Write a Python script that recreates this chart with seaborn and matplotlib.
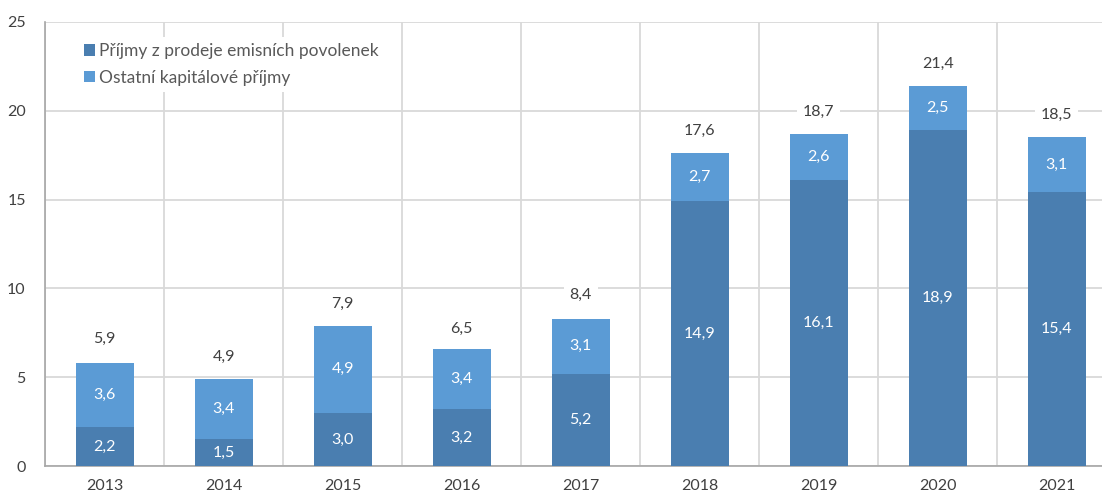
import matplotlib
matplotlib.use("Agg")
import matplotlib.pyplot as plt
import seaborn as sns
import numpy as np
import pandas as pd

years = ["2013", "2014", "2015", "2016", "2017", "2018", "2019", "2020", "2021"]
emission = [2.2, 1.5, 3.0, 3.2, 5.2, 14.9, 16.1, 18.9, 15.4]
other = [3.6, 3.4, 4.9, 3.4, 3.1, 2.7, 2.6, 2.5, 3.1]
totals = [5.9, 4.9, 7.9, 6.5, 8.4, 17.6, 18.7, 21.4, 18.5]

dark = "#4A7EB0"
light = "#5B9BD5"
text_col = "#404040"

sns.set_style("white")
plt.rcParams["font.family"] = ["Lato", "DejaVu Sans"]

df = pd.DataFrame({"year": years, "emission": emission, "other": other})

fig, ax = plt.subplots(figsize=(11.02, 4.98), dpi=100)
# the last category runs slightly past the right edge, as in the original
fig.subplots_adjust(left=0.041, right=1.013, top=0.956, bottom=0.064)

sns.barplot(data=df, x="year", y="emission", color=dark, width=0.49,
            saturation=1, linewidth=0, ax=ax,
            label="Příjmy z prodeje emisních povolenek", zorder=3)
sns.barplot(data=df, x="year", y="other", color=light, width=0.49,
            saturation=1, linewidth=0, bottom=df["emission"], ax=ax,
            label="Ostatní kapitálové příjmy", zorder=3)

fmt = lambda v: f"{v:.1f}".replace(".", ",")
for i in range(len(years)):
    ax.text(i, emission[i] / 2, fmt(emission[i]), ha="center", va="center",
            color="white", fontsize=11.5, zorder=4)
    ax.text(i, emission[i] + other[i] / 2, fmt(other[i]), ha="center", va="center",
            color="white", fontsize=11.5, zorder=4)
    ax.text(i, totals[i] + 1.25, fmt(totals[i]), ha="center", va="center",
            color=text_col, fontsize=11.5, zorder=4,
            bbox=dict(facecolor="white", edgecolor="none", pad=4))

ax.set_ylim(0, 25)
ax.set_xlim(-0.5, len(years) - 0.5)
ax.set_yticks(range(0, 26, 5))
ax.set_xticks(np.arange(-0.5, len(years), 1), minor=True)
ax.grid(axis="y", color="#D9D9D9", linewidth=1.3, zorder=0)
ax.grid(axis="x", which="minor", color="#D9D9D9", linewidth=1.3, zorder=0)
ax.tick_params(axis="both", which="both", length=0, labelsize=11.5, colors=text_col)
ax.tick_params(axis="x", pad=9)
ax.tick_params(axis="y", pad=14)
ax.set_xlabel("")
ax.set_ylabel("")
for s in ["top", "right"]:
    ax.spines[s].set_visible(False)
for s in ["left", "bottom"]:
    ax.spines[s].set_color("#A6A6A6")
    ax.spines[s].set_linewidth(1.2)

leg = ax.legend(loc="upper left", bbox_to_anchor=(0.022, 0.985), frameon=True,
                fontsize=12.5, handlelength=0.65, handleheight=0.65, handletextpad=0.25,
                labelspacing=0.6, borderpad=0.35)
leg.get_frame().set_facecolor("white")
leg.get_frame().set_edgecolor("none")
leg.get_frame().set_alpha(1)
leg.set_zorder(5)
for t in leg.get_texts():
    t.set_color("#595959")

fig.savefig("out.png", dpi=100)
